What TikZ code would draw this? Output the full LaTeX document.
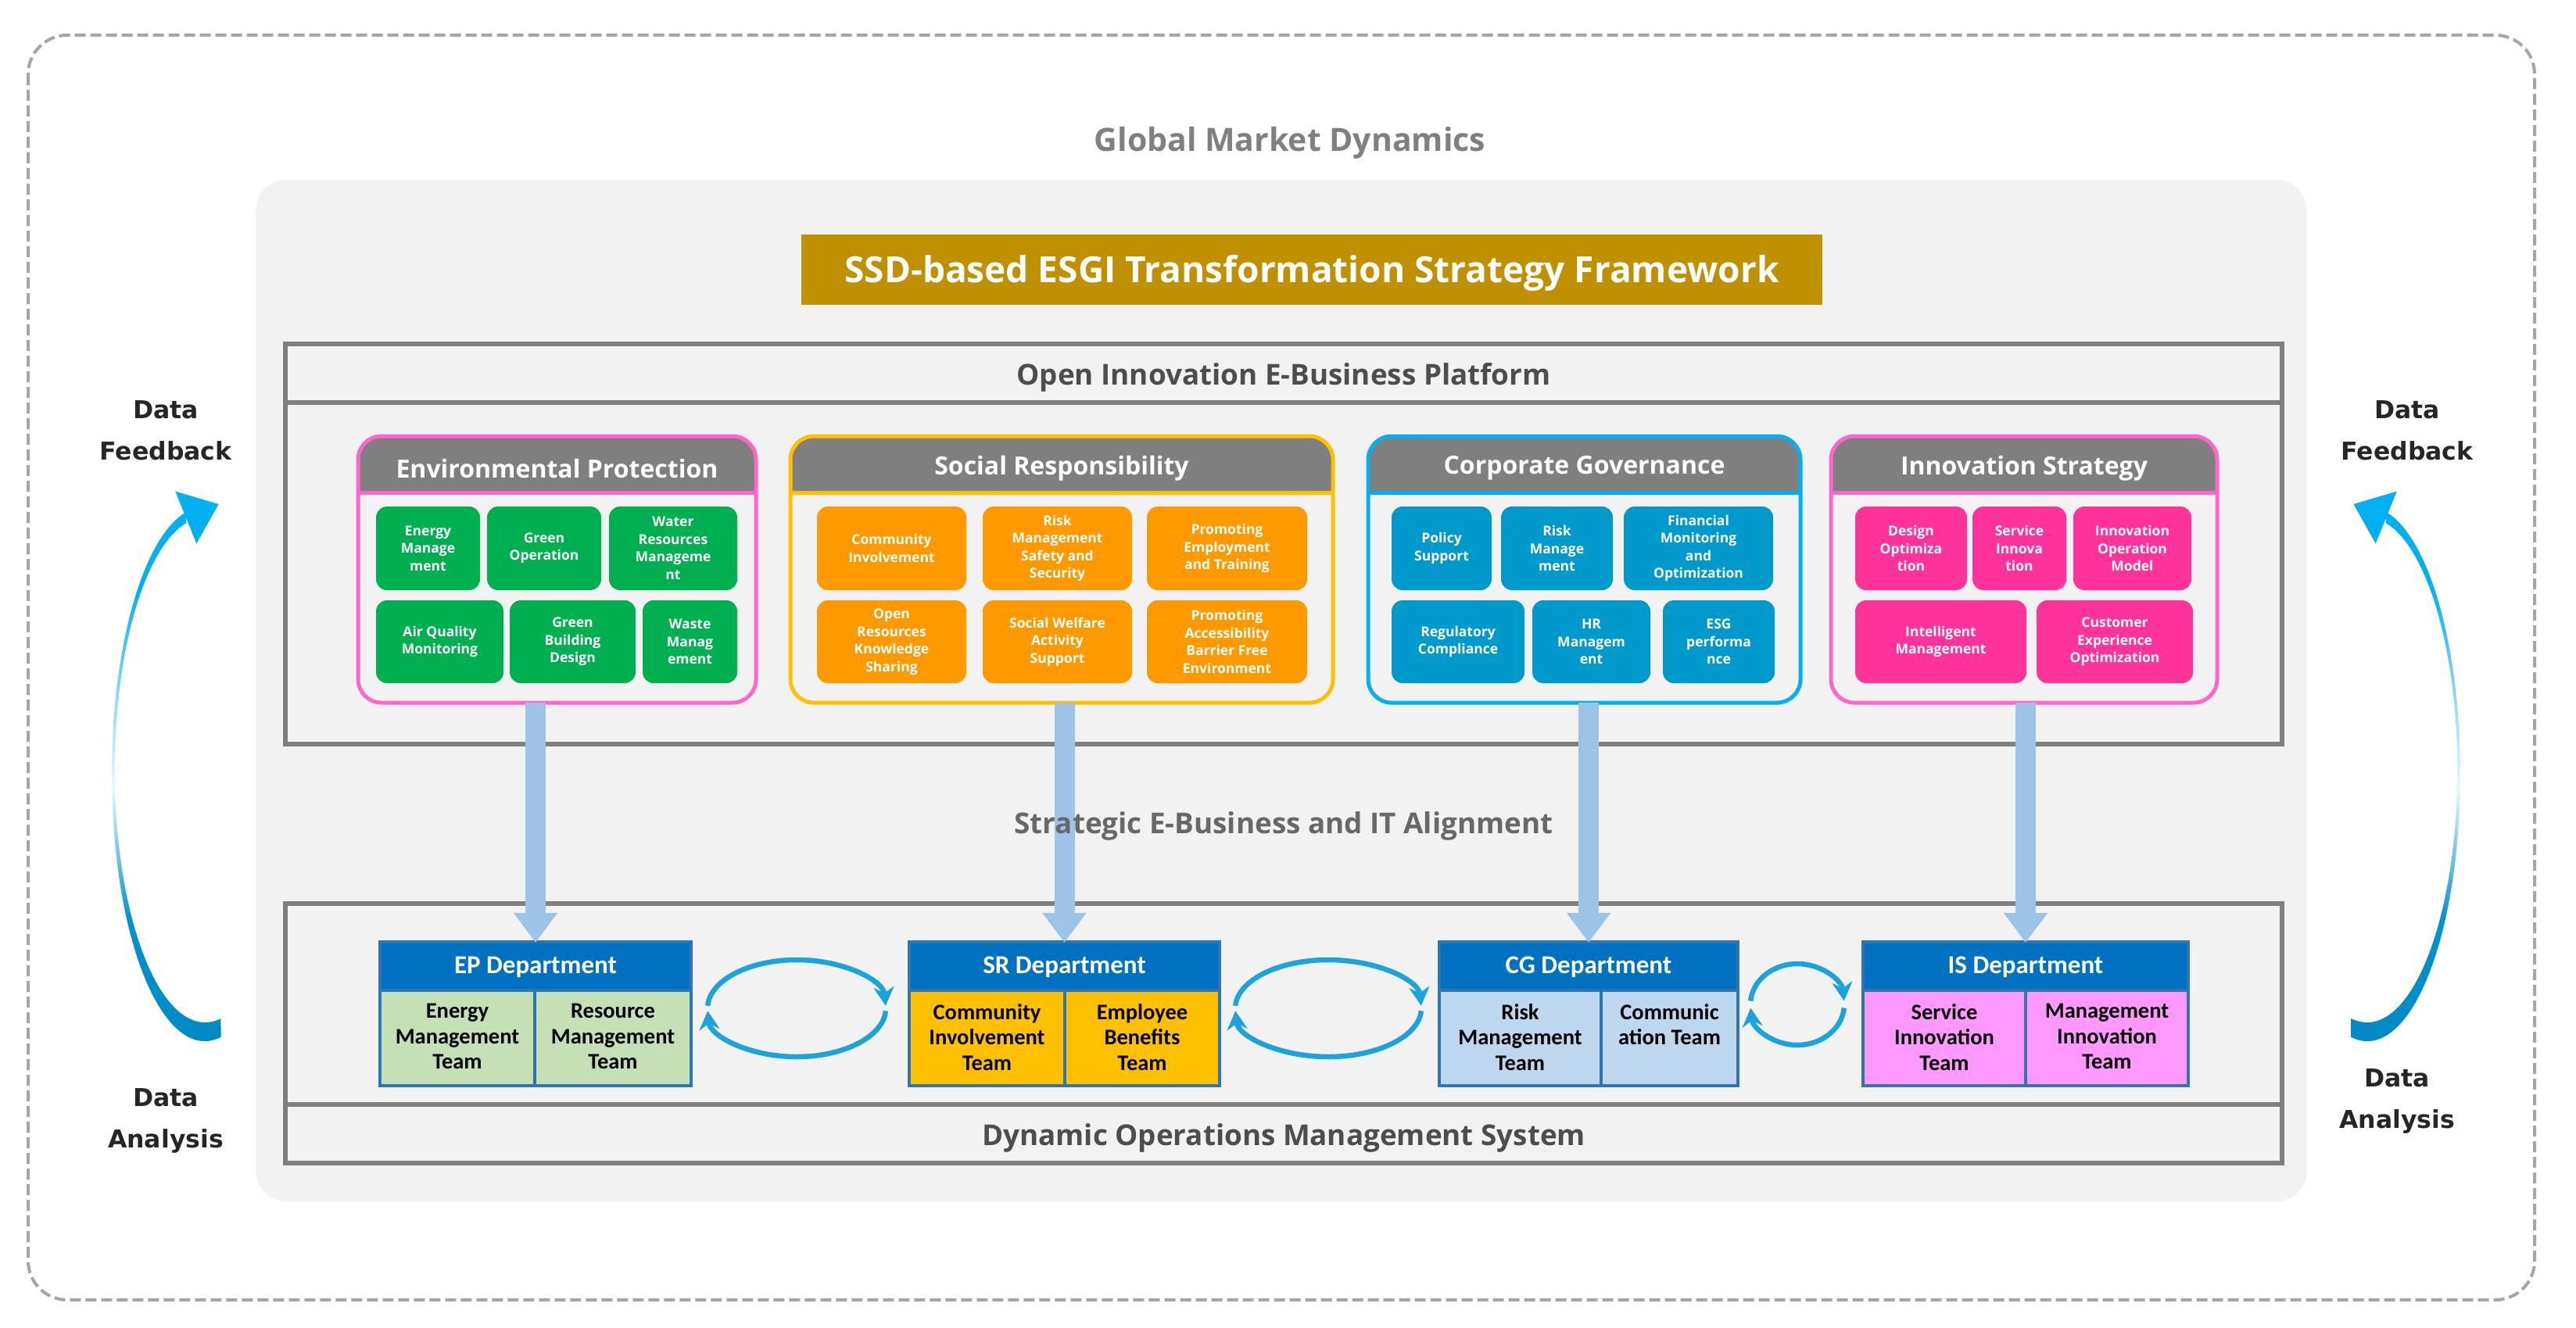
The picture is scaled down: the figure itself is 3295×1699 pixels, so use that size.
\documentclass[tikz,border=0pt]{standalone}
\usepackage{fontspec}
\setmainfont{Open Sans}
\newfontfamily\carl{Carlito}
\newfontfamily\dejav{DejaVu Sans}
\usetikzlibrary{arrows.meta}
\definecolor{panel}{HTML}{F2F2F2}
\definecolor{framegray}{HTML}{7F7F7F}
\definecolor{banner}{HTML}{BF9000}
\definecolor{hdrgray}{HTML}{7F7F7F}
\definecolor{pinkb}{HTML}{FF66CC}
\definecolor{goldb}{HTML}{FFC000}
\definecolor{blueb}{HTML}{00B0F0}
\definecolor{greent}{HTML}{00B050}
\definecolor{oranget}{HTML}{FF9900}
\definecolor{bluet}{HTML}{0099CC}
\definecolor{pinkt}{HTML}{FF3399}
\definecolor{depthdr}{HTML}{0070C0}
\definecolor{deptln}{HTML}{2E75B6}
\definecolor{cellg}{HTML}{C5E0B4}
\definecolor{cello}{HTML}{FFC000}
\definecolor{cellb}{HTML}{BDD7EE}
\definecolor{cellp}{HTML}{FF99FF}
\definecolor{conn}{HTML}{9DC3E6}
\definecolor{cycc}{HTML}{1AA3DC}
\definecolor{txtgray}{HTML}{4D4D4D}
\definecolor{gmgray}{HTML}{808080}
\definecolor{dashg}{HTML}{A6A6A6}
\definecolor{dtop}{HTML}{00B0F0}
\definecolor{dbot}{HTML}{0088C4}
\pgfdeclareverticalshading{dataarrow}{100bp}{color(0bp)=(dbot); color(25bp)=(dbot); color(38bp)=(dbot!75!dtop); color(50bp)=(dtop!8!white); color(60bp)=(dtop!55!white); color(68bp)=(dtop); color(100bp)=(dtop)}
\newcommand\tilecol{greent}
\newcommand\tile[6]{\node[tilebox, fill=\tilecol, minimum width={(#4)-(#2)}, minimum height={(#5)-(#3)}] (#1) at ({((#2)+(#4))/2},{((#3)+(#5))/2}) {#6};}
\newcommand\category[5]{%
  \node[fill=panel, rounded corners=30pt, minimum width={(#3)-(#2)}, minimum height=341, inner sep=0] (#1) at ({((#2)+(#3))/2},728.5) {};
  \begin{scope}
    \clip[rounded corners=30pt] (#2,558) rectangle (#3,899);
    \fill[hdrgray] (#2,558) rectangle (#3,630);
  \end{scope}
  \draw[#4, line width=5pt] (#2,630) -- (#3,630);
  \draw[#4, line width=5pt, rounded corners=30pt] (#2,558) rectangle (#3,899);
  \node[cattitle] (#1t) at ({((#2)+(#3))/2},599) {#5};
}
\newcommand\dept[8]{%
  \fill[#5] (#2,1267) rectangle (#3,1389);
  \node[fill=depthdr, minimum width={(#3)-(#2)}, minimum height=62, inner sep=0, text=white, font=\carl\bfseries\fontsize{33}{38}\selectfont] (#1) at ({((#2)+(#3))/2},1237) {#6};
  \draw[deptline] (#2,1205) rectangle (#3,1389);
  \draw[deptline] (#2,1267) -- (#3,1267);
  \draw[deptline] (#4,1267) -- (#4,1389);
  \node[teamtxt, anchor=north] (#1l) at ({((#2)+(#4))/2},1284) {#7};
  \node[teamtxt, anchor=north] (#1r) at ({((#4)+(#3))/2},1284) {#8};
}
\begin{document}
\begin{tikzpicture}[x=1pt,y=-1pt,
  frame/.style={draw=framegray, line width=6pt},
  plat/.style={font=\bfseries\fontsize{36.8}{42}\selectfont, text=txtgray, inner sep=0},
  tilebox/.style={rounded corners=14pt, inner sep=1pt, text=white, align=center, font=\bfseries\fontsize{17.5}{22.5}\selectfont},
  cattitle/.style={text=white, inner sep=0, font=\bfseries\fontsize{32}{38}\selectfont},
  deptline/.style={draw=deptln, line width=4pt},
  teamtxt/.style={inner sep=0, align=center, text=black, font=\carl\bfseries\fontsize{28.5}{32.5}\selectfont},
  vconn/.style={draw=conn, line width=26pt, -{Triangle[length=38pt, width=54pt]}},
  cyc/.style={draw=cycc, line width=6.5pt, -{Stealth[length=24pt, width=26pt]}},
  datalbl/.style={align=center, inner sep=0, text=black!85, font=\dejav\bfseries\fontsize{31.5}{53}\selectfont}
]
\useasboundingbox (0,0) rectangle (3295,1699);
\fill[white] (0,0) rectangle (3295,1699);
% outer dashed frame
\draw[dashg, line width=4pt, dash pattern=on 14pt off 6pt, rounded corners=50pt] (36,45) rectangle (3242,1663);
% inner panel
\fill[panel, rounded corners=40pt] (327,230) rectangle (2951,1537);
\node[font=\bfseries\fontsize{41}{48}\selectfont, text=gmgray, inner sep=0] (gmd) at (1650,183) {Global Market Dynamics};
\node[fill=banner, minimum width=1306, minimum height=90, inner sep=0, text=white, font=\bfseries\fontsize{46}{54}\selectfont] (title) at (1678,345) {};
\node[text=white, inner sep=0, font=\bfseries\fontsize{46}{54}\selectfont] (titletxt) at (1678,349) {SSD-based ESGI Transformation Strategy Framework};
% platform frames
\node[frame, minimum width=2554, minimum height=512, inner sep=0] (upper) at (1642,696) {};
\draw[frame] (upper.west |- 0,515) -- (upper.east |- 0,515);
\node[plat] (oiep) at (1642,483) {Open Innovation E-Business Platform};
\node[frame, minimum width=2554, minimum height=332, inner sep=0] (lower) at (1642,1322) {};
\draw[frame] (lower.west |- 0,1413) -- (lower.east |- 0,1413);
\node[plat] (doms) at (1642,1456) {Dynamic Operations Management System};
% departments
\dept{epd}{486}{884}{684}{cellg}{EP Department}{Energy\\Management\\Team}{Resource\\Management\\Team}
\dept{srd}{1163}{1560}{1362}{cello}{SR Department}{Community\\Involvement\\Team}{Employee\\Benefits\\Team}
\dept{cgd}{1841}{2223}{2048}{cellb}{CG Department}{Risk\\Management\\Team}{Communic\\ation Team}
\dept{isd}{2383}{2799}{2591}{cellp}{IS Department}{Service\\Innovation\\Team}{Management\\Innovation\\Team}
% categories
\category{ep}{458}{967}{pinkb}{Environmental Protection}
\category{sr}{1011}{1705}{goldb}{Social Responsibility}
\category{cg}{1750}{2303}{blueb}{Corporate Governance}
\category{is}{2342}{2836}{pinkb}{Innovation Strategy}
% vertical connectors
\draw[vconn] (epd.north |- ep.south) -- (epd.north);
\draw[vconn] (srd.north |- sr.south) -- (srd.north);
\draw[vconn] (cgd.north |- cg.south) -- (cgd.north);
\draw[vconn] (isd.north |- is.south) -- (isd.north);
\node[plat, text=txtgray!85] (seba) at (1642,1057) {Strategic E-Business and IT Alignment};
% tiles
\newcommand\ra{648}\newcommand\rb{755}\newcommand\rc{768}\newcommand\rd{874}
\renewcommand\tilecol{greent}
\tile{ep1}{481}{\ra}{614}{\rb}{Energy\\Manage\\ment}
\tile{ep2}{623}{\ra}{769}{\rb}{Green\\Operation}
\tile{ep3}{779}{\ra}{943}{\rb}{Water\\Resources\\Manageme\\nt}
\tile{ep4}{481}{\rc}{644}{\rd}{Air Quality\\Monitoring}
\tile{ep5}{652}{\rc}{813}{\rd}{Green\\Building\\Design}
\tile{ep6}{822}{\rc}{943}{\rd}{Waste\\Manag\\ement}
\renewcommand\tilecol{oranget}
\tile{sr1}{1045}{\ra}{1236}{\rb}{Community\\Involvement}
\tile{sr2}{1257}{\ra}{1448}{\rb}{Risk\\Management\\Safety and\\Security}
\tile{sr3}{1467}{\ra}{1672}{\rb}{Promoting\\Employment\\and Training}
\tile{sr4}{1045}{\rc}{1236}{\rd}{Open\\Resources\\Knowledge\\Sharing}
\tile{sr5}{1257}{\rc}{1448}{\rd}{Social Welfare\\Activity\\Support}
\tile{sr6}{1467}{\rc}{1672}{\rd}{Promoting\\Accessibility\\Barrier Free\\Environment}
\renewcommand\tilecol{bluet}
\tile{cg1}{1780}{\ra}{1908}{\rb}{Policy\\Support}
\tile{cg2}{1920}{\ra}{2063}{\rb}{Risk\\Manage\\ment}
\tile{cg3}{2077}{\ra}{2268}{\rb}{Financial\\Monitoring\\and\\Optimization}
\tile{cg4}{1780}{\rc}{1950}{\rd}{Regulatory\\Compliance}
\tile{cg5}{1960}{\rc}{2111}{\rd}{HR\\Managem\\ent}
\tile{cg6}{2127}{\rc}{2270}{\rd}{ESG\\performa\\nce}
\renewcommand\tilecol{pinkt}
\tile{is1}{2373}{\ra}{2516}{\rb}{Design\\Optimiza\\tion}
\tile{is2}{2523}{\ra}{2643}{\rb}{Service\\Innova\\tion}
\tile{is3}{2652}{\ra}{2803}{\rb}{Innovation\\Operation\\Model}
\tile{is4}{2373}{\rc}{2592}{\rd}{Intelligent\\Management}
\tile{is5}{2605}{\rc}{2805}{\rd}{Customer\\Experience\\Optimization}
% cycle arrows
\coordinate (c1) at (1019,1290);
\coordinate (c2) at (1699,1290);
\coordinate (c3) at (2299,1285);
\draw[cyc] (c1) ++(183:114 and 62) arc[start angle=183, end angle=357, x radius=114, y radius=62];
\draw[cyc] (c1) ++(3:114 and 62) arc[start angle=3, end angle=177, x radius=114, y radius=62];
\draw[cyc] (c2) ++(183:119 and 62) arc[start angle=183, end angle=357, x radius=119, y radius=62];
\draw[cyc] (c2) ++(3:119 and 62) arc[start angle=3, end angle=177, x radius=119, y radius=62];
\draw[cyc] (c3) ++(185:60 and 52) arc[start angle=185, end angle=355, x radius=60, y radius=52];
\draw[cyc] (c3) ++(5:60 and 52) arc[start angle=5, end angle=175, x radius=60, y radius=52];
% data arrows
\shade[shading=dataarrow] (282.7,1326.8) arc[start angle=80, end angle=258, x radius=119, y radius=342] -- (238.3,669.1) arc[start angle=258, end angle=80, x radius=115.5, y radius=323] -- cycle;
\fill[dtop] (251.3,695.4) -- (279.5,645) -- (224.3,628.6) -- cycle;
\shade[shading=dataarrow] (3007.3,1326.8) arc[start angle=100, end angle=-78, x radius=119, y radius=342] -- (3051.7,669.1) arc[start angle=-78, end angle=100, x radius=115.5, y radius=323] -- cycle;
\fill[dtop] (3038.7,695.4) -- (3010.5,645) -- (3065.7,628.6) -- cycle;
\node[datalbl] (dfl) at (212,551) {Data\\Feedback};
\node[datalbl] (dal) at (212,1434) {Data\\Analysis};
\node[datalbl] (dfr) at (3079,551) {Data\\Feedback};
\node[datalbl] (dar) at (3066,1409) {Data\\Analysis};
\end{tikzpicture}
\end{document}
